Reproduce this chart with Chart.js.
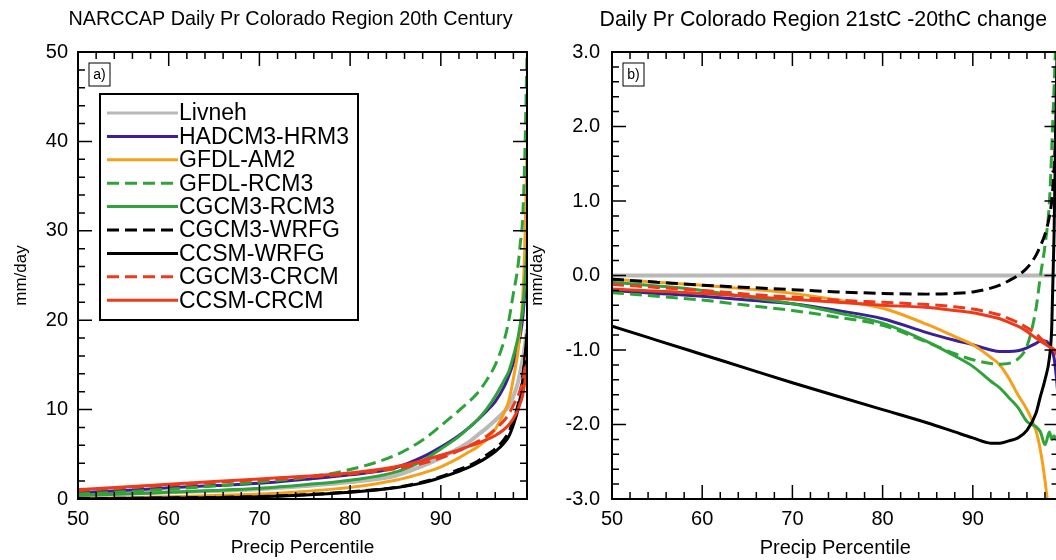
<!DOCTYPE html>
<html>
<head>
<meta charset="utf-8">
<script src="https://cdn.jsdelivr.net/npm/chart.js@4.4.0/dist/chart.umd.min.js"></script>
<style>
html, body { margin: 0; padding: 0; background: #fff; width: 1056px; height: 560px; overflow: hidden; position: relative; }
canvas { position: absolute; top: 0; }
#chartA { left: 0; }
#chartB { left: 520px; }
</style>
</head>
<body>
<canvas id="chartA" width="578" height="560"></canvas>
<canvas id="chartB" width="608" height="560"></canvas>
<script>
// ------------------------------------------------------------
// Datos
// ------------------------------------------------------------
const percentiles = [50, 55, 60, 65, 70, 75, 80, 85, 88, 90, 92, 93, 94, 95, 96, 97, 97.5, 98, 98.5, 98.75, 99, 99.25, 99.5];

const models = ['Livneh', 'HADCM3-HRM3', 'GFDL-AM2', 'GFDL-RCM3', 'CGCM3-RCM3', 'CGCM3-WRFG', 'CCSM-WRFG', 'CGCM3-CRCM', 'CCSM-CRCM'];

// a) 20th century, mm/day
const histLivneh  = [0.45, 0.6, 0.75, 0.9, 1.1, 1.45, 1.9, 2.6, 3.7, 4.6, 5.7, 6.3, 7.1, 7.9, 8.8, 9.8, 10.4, 11.5, 13, 14.2, 15.5, 17, 19];
const histHadHrm3 = [0.7, 0.95, 1.25, 1.5, 1.75, 2.2, 2.7, 3.5, 4.7, 5.8, 7.1, 7.9, 8.8, 9.8, 10.9, 12.6, 13.8, 15.2, 17, 18.3, 20, 23, 27];
const histGfdlAm2 = [0.1, 0.15, 0.25, 0.4, 0.55, 0.85, 1.3, 2.1, 2.9, 3.6, 4.6, 5.2, 5.8, 6.6, 7.8, 9.7, 11, 13.5, 16.5, 19, 22, 28, 39];
const histGfdlRcm = [0.55, 0.8, 1.1, 1.45, 1.9, 2.4, 3.3, 4.9, 6.6, 8.2, 9.9, 10.8, 11.8, 13.2, 15.0, 17.8, 20, 23, 26, 28.5, 31, 38, 50];
const histCgcmRcm = [0.4, 0.55, 0.75, 0.95, 1.2, 1.6, 2.1, 3.0, 4.3, 5.6, 7.0, 7.9, 8.8, 10.0, 11.5, 13.3, 14.3, 16, 18, 19.5, 21, 24, 28];
const histCgcmWrf = [0.05, 0.08, 0.12, 0.18, 0.28, 0.48, 0.8, 1.3, 1.9, 2.5, 3.3, 3.7, 4.2, 4.9, 5.6, 6.7, 7.5, 8.8, 10.5, 11.8, 13.5, 15.5, 18];
const histCcsmWrf = [0.0, 0.05, 0.1, 0.15, 0.25, 0.45, 0.75, 1.25, 1.8, 2.4, 3.1, 3.5, 4.0, 4.6, 5.3, 6.3, 7.0, 8.3, 10, 11.3, 13, 15.5, 18.5];
const histCgcmCrc = [0.95, 1.25, 1.55, 1.85, 2.15, 2.45, 2.8, 3.4, 4.0, 4.6, 5.4, 5.9, 6.4, 7.0, 7.8, 8.8, 9.5, 10.5, 11.5, 12.2, 13, 14.5, 16];
const histCcsmCrc = [1.05, 1.35, 1.65, 1.95, 2.25, 2.55, 2.9, 3.6, 4.3, 4.9, 5.5, 5.85, 6.2, 6.6, 7.1, 7.8, 8.3, 9.0, 10, 10.7, 11.5, 13, 15];

// b) 21stC - 20thC change, mm/day
const chgLivneh  = [0, 0, 0, 0, 0, 0, 0, 0, 0, 0, 0, 0, 0, 0, 0, 0, 0, 0, 0, 0, 0, 0, 0];
const chgHadHrm3 = [-0.2, -0.24, -0.28, -0.33, -0.38, -0.47, -0.58, -0.77, -0.87, -0.93, -1.0, -1.02, -1.02, -1.01, -0.97, -0.91, -0.88, -0.88, -0.93, -1.0, -1.1, -1.35, -1.7];
const chgGfdlAm2 = [-0.05, -0.09, -0.13, -0.18, -0.24, -0.33, -0.44, -0.66, -0.82, -0.93, -1.1, -1.2, -1.38, -1.6, -1.8, -2.08, -2.35, -2.75, -3.3, -3.7, -4.2, -5, -6];
const chgGfdlRcm = [-0.23, -0.28, -0.33, -0.4, -0.47, -0.56, -0.67, -0.9, -1.05, -1.13, -1.18, -1.19, -1.18, -1.12, -0.95, -0.45, 0.0, 0.4, 1.0, 1.7, 2.5, 3.3, 4.0];
const chgCgcmRcm = [-0.09, -0.14, -0.2, -0.29, -0.38, -0.5, -0.64, -0.89, -1.08, -1.22, -1.42, -1.51, -1.64, -1.77, -1.96, -2.03, -2.1, -2.27, -2.1, -2.2, -2.15, -2.2, -2.2];
const chgCgcmWrf = [-0.05, -0.09, -0.13, -0.16, -0.19, -0.22, -0.24, -0.25, -0.24, -0.22, -0.17, -0.13, -0.07, 0.0, 0.1, 0.27, 0.4, 0.55, 0.8, 1.0, 1.4, 2.1, 2.9];
const chgCcsmWrf = [-0.68, -0.87, -1.06, -1.25, -1.44, -1.62, -1.8, -1.98, -2.1, -2.18, -2.25, -2.25, -2.22, -2.18, -2.08, -1.85, -1.62, -1.4, -1.1, -0.7, 0.5, 2.4, 4.0];
const chgCgcmCrc = [-0.12, -0.16, -0.2, -0.25, -0.29, -0.33, -0.36, -0.39, -0.42, -0.45, -0.5, -0.53, -0.58, -0.63, -0.7, -0.78, -0.84, -0.89, -0.94, -0.97, -0.99, -1.02, -1.05];
const chgCcsmCrc = [-0.18, -0.21, -0.24, -0.28, -0.32, -0.36, -0.4, -0.43, -0.47, -0.5, -0.55, -0.58, -0.63, -0.68, -0.75, -0.84, -0.88, -0.92, -0.96, -0.98, -1.0, -1.05, -1.1];

const histSeries = [histLivneh, histHadHrm3, histGfdlAm2, histGfdlRcm, histCgcmRcm, histCgcmWrf, histCcsmWrf, histCgcmCrc, histCcsmCrc];
const chgSeries = [chgLivneh, chgHadHrm3, chgGfdlAm2, chgGfdlRcm, chgCgcmRcm, chgCgcmWrf, chgCcsmWrf, chgCgcmCrc, chgCcsmCrc];

// ------------------------------------------------------------
// Estilos
// ------------------------------------------------------------
const lineColors = ['#b9b9b9', '#3b1f95', '#f6a01a', '#2ea33a', '#2ea33a', '#000000', '#000000', '#ec3a1c', '#ec3a1c'];
const dashed = [false, false, false, true, false, true, false, true, false];
const FONT = "'Liberation Sans', Arial, Helvetica, sans-serif";

function makeDatasets(series) {
    return series.map((vals, i) => ({
        label: models[i],
        data: percentiles.map((p, j) => ({ x: p, y: vals[j] })),
        borderColor: lineColors[i],
        borderWidth: i === 0 ? 4 : 3,
        borderDash: dashed[i] ? [12, 6] : [],
        pointRadius: 0,
        cubicInterpolationMode: 'monotone',
        fill: false,
        order: series.length - i
    }));
}

function isMajor(v, major) {
    const r = v / major;
    return Math.abs(r - Math.round(r)) < 1e-6;
}

// ticks hacia adentro en los 4 lados + marco (estilo NCL)
const frameTicks = {
    id: 'frameTicks',
    afterDatasetsDraw(chart, args, opts) {
        const { ctx, chartArea: a, scales } = chart;
        const x = scales.x, y = scales.y;
        ctx.save();
        ctx.strokeStyle = '#000';
        ctx.lineWidth = 1.5;
        ctx.beginPath();
        const nx = Math.floor((x.max - x.min) / opts.xMinor + 1e-6);
        for (let i = 0; i <= nx; i++) {
            const v = x.min + i * opts.xMinor;
            const px = x.getPixelForValue(v);
            const len = isMajor(v, opts.xMajor) ? 14 : 7;
            ctx.moveTo(px, a.bottom); ctx.lineTo(px, a.bottom - len);
            ctx.moveTo(px, a.top); ctx.lineTo(px, a.top + len);
        }
        const ny = Math.round((y.max - y.min) / opts.yMinor);
        for (let i = 0; i <= ny; i++) {
            const v = y.min + i * opts.yMinor;
            const py = y.getPixelForValue(v);
            const len = isMajor(v, opts.yMajor) ? 14 : 7;
            ctx.moveTo(a.left, py); ctx.lineTo(a.left + len, py);
            ctx.moveTo(a.right, py); ctx.lineTo(a.right - len, py);
        }
        ctx.stroke();
        ctx.lineWidth = 2;
        ctx.strokeRect(a.left, a.top, a.right - a.left, a.bottom - a.top);
        ctx.restore();
    }
};

// título, etiqueta del panel y leyenda dentro del área
const panelLegend = {
    id: 'panelLegend',
    afterDraw(chart, args, opts) {
        const { ctx, chartArea: a } = chart;
        ctx.save();
        // título (centrado un poco a la izquierda del área, como en NCL)
        ctx.fillStyle = '#000';
        ctx.font = `${opts.titleSize}px ${FONT}`;
        ctx.textAlign = 'center';
        ctx.textBaseline = 'middle';
        ctx.fillText(opts.title, (a.left + a.right) / 2 - 12, 20);

        ctx.strokeStyle = '#000';
        ctx.lineWidth = 1;
        ctx.fillStyle = '#fff';
        ctx.fillRect(a.left + 11, a.top + 11, 21, 23);
        ctx.strokeRect(a.left + 11, a.top + 11, 21, 23);
        ctx.fillStyle = '#000';
        ctx.font = `14px ${FONT}`;
        ctx.fillText(opts.tag, a.left + 21.5, a.top + 23);

        if (opts.legend) {
            const bx = a.left + 22, by = a.top + 42, bw = 258, bh = 226;
            ctx.fillStyle = '#fff';
            ctx.fillRect(bx, by, bw, bh);
            ctx.lineWidth = 2;
            ctx.strokeRect(bx, by, bw, bh);
            ctx.font = `23px ${FONT}`;
            ctx.textAlign = 'left';
            chart.data.datasets.forEach((ds, i) => {
                const ry = by + 19 + i * 23.4;
                ctx.strokeStyle = ds.borderColor;
                ctx.lineWidth = 3;
                ctx.setLineDash(ds.borderDash);
                ctx.beginPath();
                ctx.moveTo(bx + 7, ry);
                ctx.lineTo(bx + 78, ry);
                ctx.stroke();
                ctx.setLineDash([]);
                ctx.fillStyle = '#000';
                ctx.fillText(ds.label, bx + 79, ry + 1);
            });
        }
        ctx.restore();
    }
};

function buildChart(id, cfg) {
    const ctx = document.getElementById(id).getContext('2d');
    const axisLh = cfg.axisSize * 1.2;
    return new Chart(ctx, {
        type: 'line',
        data: { datasets: makeDatasets(cfg.series) },
        plugins: [frameTicks, panelLegend],
        options: {
            responsive: false,
            animation: false,
            devicePixelRatio: 1,
            layout: { padding: { left: 0, right: cfg.padRight, top: 52, bottom: 0 } },
            plugins: {
                legend: { display: false },
                tooltip: { enabled: false },
                title: { display: false },
                frameTicks: cfg.ticks,
                panelLegend: { tag: cfg.tag, legend: cfg.legend, title: cfg.title, titleSize: cfg.titleSize }
            },
            scales: {
                x: {
                    type: 'linear',
                    min: 50,
                    max: 99.5,
                    afterBuildTicks: s => { s.ticks = s.ticks.filter(t => isMajor(t.value, 10)); },
                    afterFit: s => { s.height = 61; },
                    ticks: { stepSize: 10, color: '#000', padding: 8, font: { family: FONT, size: 20 } },
                    grid: { display: false, drawTicks: false },
                    border: { display: false },
                    title: {
                        display: true,
                        text: 'Precip Percentile',
                        color: '#000',
                        font: { family: FONT, size: cfg.axisSize },
                        padding: { top: 0, bottom: 12 - axisLh / 2 }
                    }
                },
                y: {
                    min: cfg.yMin,
                    max: cfg.yMax,
                    afterFit: s => { s.width = cfg.yWidth; },
                    ticks: {
                        stepSize: cfg.yStep,
                        color: '#000',
                        padding: cfg.yPad,
                        font: { family: FONT, size: 20 },
                        callback: cfg.yFmt
                    },
                    grid: { display: false, drawTicks: false },
                    border: { display: false },
                    title: {
                        display: true,
                        text: 'mm/day',
                        color: '#000',
                        font: { family: FONT, size: 17 },
                        padding: { top: cfg.yTitlePad, bottom: 0 }
                    }
                }
            }
        }
    });
}

buildChart('chartA', {
    series: histSeries,
    title: 'NARCCAP Daily Pr Colorado Region 20th Century',
    titleSize: 19.8,
    axisSize: 19,
    tag: 'a)',
    legend: true,
    padRight: 51,
    yMin: 0, yMax: 50, yStep: 10, yWidth: 78, yPad: 10, yTitlePad: 11,
    yFmt: v => String(v),
    ticks: { xMajor: 10, xMinor: 2, yMajor: 10, yMinor: 2 }
});

buildChart('chartB', {
    series: chgSeries,
    title: 'Daily Pr Colorado Region 21stC -20thC change',
    titleSize: 21.3,
    axisSize: 20,
    tag: 'b)',
    legend: false,
    padRight: 69.5,
    yMin: -3, yMax: 3, yStep: 1, yWidth: 92, yPad: 12, yTitlePad: 7,
    yFmt: v => v.toFixed(1),
    ticks: { xMajor: 10, xMinor: 2, yMajor: 1, yMinor: 0.2 }
});
</script>
</body>
</html>
